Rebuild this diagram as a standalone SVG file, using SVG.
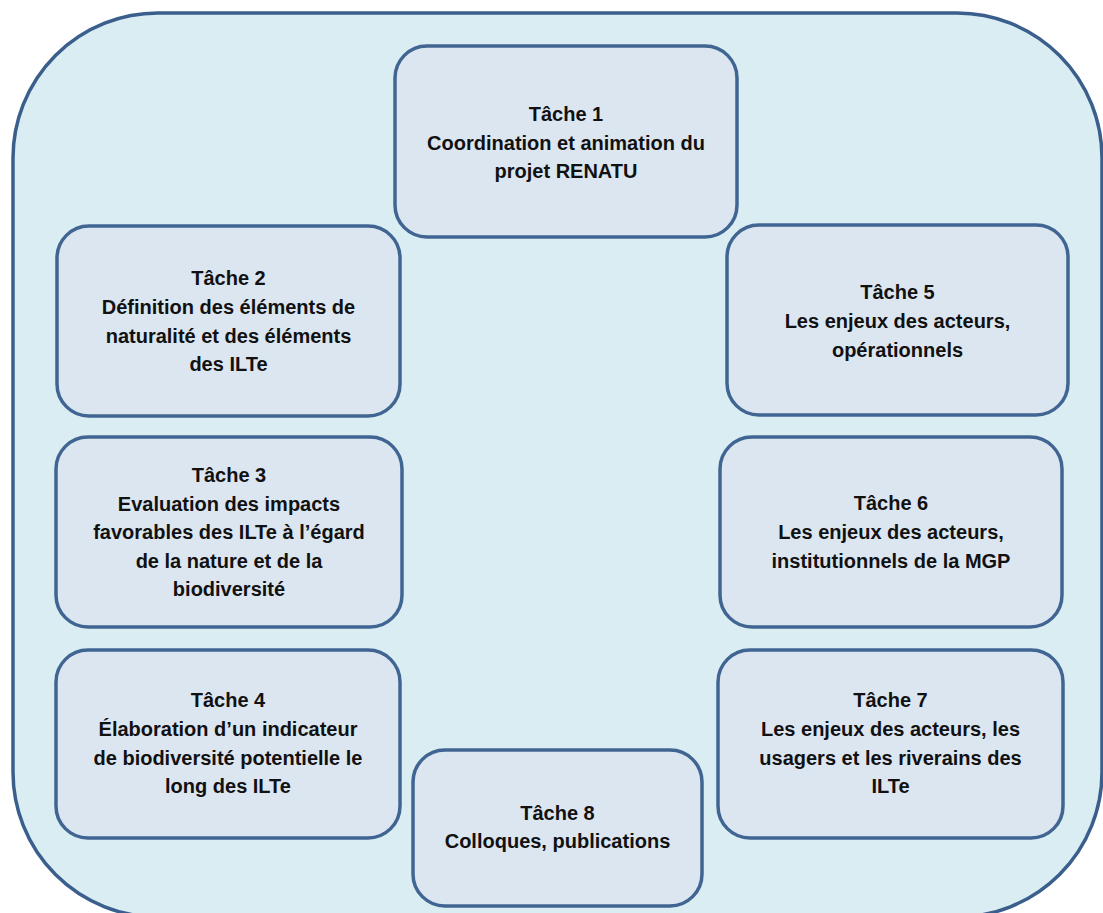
<svg xmlns="http://www.w3.org/2000/svg" width="1103" height="913" viewBox="0 0 1103 913">
<style>
.bg{fill:#DAEDF3;stroke:#3B5F8C;stroke-width:3.5}
.box{fill:#DCE6F1;stroke:#416592;stroke-width:3.5}
text{font-family:"Liberation Sans",Arial,sans-serif;font-weight:bold;font-size:20px;fill:#111;text-anchor:middle}
</style>
<rect width="1103" height="913" fill="#FFFFFF"/>
<rect id="container" class="bg" x="13" y="13" width="1089" height="904" rx="145" ry="145"/>
<g id="connectors"></g>
<g id="t1"><rect class="box" x="395" y="46" width="342" height="191" rx="32"/>
<text x="566" y="121">Tâche 1</text><text x="566" y="149.5">Coordination et animation du</text><text x="566" y="178">projet RENATU</text></g>
<g id="t2"><rect class="box" x="57" y="226" width="343" height="190" rx="32"/>
<text x="228.5" y="285">Tâche 2</text><text x="228.5" y="314">Définition des éléments de</text><text x="228.5" y="342.5">naturalité et des éléments</text><text x="228.5" y="371">des ILTe</text></g>
<g id="t3"><rect class="box" x="56" y="437" width="346" height="190" rx="32"/>
<text x="229" y="482">Tâche 3</text><text x="229" y="510.5">Evaluation des impacts</text><text x="229" y="539">favorables des ILTe à l’égard</text><text x="229" y="567.5">de la nature et de la</text><text x="229" y="596">biodiversité</text></g>
<g id="t4"><rect class="box" x="56" y="650" width="344" height="188" rx="32"/>
<text x="228" y="707">Tâche 4</text><text x="228" y="736">Élaboration d’un indicateur</text><text x="228" y="764.5">de biodiversité potentielle le</text><text x="228" y="793">long des ILTe</text></g>
<g id="t5"><rect class="box" x="727" y="225" width="341" height="190" rx="32"/>
<text x="897.5" y="299">Tâche 5</text><text x="897.5" y="328">Les enjeux des acteurs,</text><text x="897.5" y="356.5">opérationnels</text></g>
<g id="t6"><rect class="box" x="720" y="437" width="342" height="190" rx="32"/>
<text x="891" y="510">Tâche 6</text><text x="891" y="539">Les enjeux des acteurs,</text><text x="891" y="567.5">institutionnels de la MGP</text></g>
<g id="t7"><rect class="box" x="718" y="650" width="345" height="188" rx="32"/>
<text x="890.5" y="707">Tâche 7</text><text x="890.5" y="736">Les enjeux des acteurs, les</text><text x="890.5" y="764.5">usagers et les riverains des</text><text x="890.5" y="793">ILTe</text></g>
<g id="t8"><rect class="box" x="413" y="750" width="289" height="156" rx="32"/>
<text x="557.5" y="820">Tâche 8</text><text x="557.5" y="848">Colloques, publications</text></g>
</svg>
